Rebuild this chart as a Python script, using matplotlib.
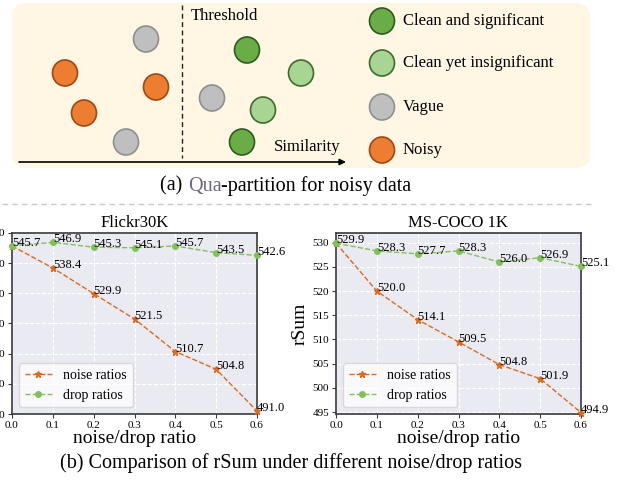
import numpy as np
import matplotlib
matplotlib.use('Agg')
import matplotlib.pyplot as plt
from matplotlib.patches import FancyBboxPatch, Ellipse
from matplotlib.offsetbox import TextArea, HPacker, AnnotationBbox

plt.rcParams['font.family'] = ['Liberation Serif', 'DejaVu Serif']

# ============================================================
# 数据
# ============================================================

ratios = [0.0, 0.1, 0.2, 0.3, 0.4, 0.5, 0.6]
flickr_noise = [545.7, 538.4, 529.9, 521.5, 510.7, 504.8, 491.0]
flickr_drop = [545.7, 546.9, 545.3, 545.1, 545.7, 543.5, 542.6]
coco_noise = [529.9, 520.0, 514.1, 509.5, 504.8, 501.9, 494.9]
coco_drop = [529.9, 528.3, 527.7, 528.3, 526.0, 526.9, 525.1]

# 示意图中的样本点（像素坐标）及类别
dot_x = [146, 65, 156, 84, 126, 247, 301, 212, 263, 242]
dot_y = [39, 73, 87, 113, 142, 50, 73, 98, 110, 142]
dot_cat = ['vague', 'noisy', 'noisy', 'noisy', 'vague',
           'sig', 'insig', 'vague', 'insig', 'sig']

cat_keys = ['sig', 'insig', 'vague', 'noisy']
cat_labels = ['Clean and significant', 'Clean yet insignificant', 'Vague', 'Noisy']
cat_face = {'sig': '#6aac46', 'insig': '#a9d594', 'vague': '#bfbfbf', 'noisy': '#ed7d31'}
cat_edge = {'sig': '#2f5a1f', 'insig': '#3e6b2b', 'vague': '#8f8f8f', 'noisy': '#9e4715'}

NOISE_C = '#dc6a1e'
DROP_C = '#82c05a'

fig = plt.figure(figsize=(6.25, 4.87), dpi=100)

# ============================================================
# (a) 示意图
# ============================================================
ax0 = fig.add_axes([0, 0, 1, 1])
ax0.set_xlim(0, 625)
ax0.set_ylim(487, 0)
ax0.axis('off')

box = FancyBboxPatch((12, 3), 578, 165, boxstyle='round,pad=0,rounding_size=14',
                     fc='#fff6e3', ec='none')
ax0.add_patch(box)

ax0.plot([182, 182], [5, 158], color='#222222', lw=1, ls=(0, (3.5, 2.5)))
ax0.annotate('', xy=(346, 162), xytext=(19, 162),
             arrowprops=dict(arrowstyle='-|>', color='black', lw=1.2,
                             mutation_scale=9, shrinkA=0, shrinkB=0))
ax0.text(191, 16, 'Threshold', fontsize=12, ha='left', va='center')
ax0.text(274, 147, 'Similarity', fontsize=12, ha='left', va='center')

for x, y, c in zip(dot_x, dot_y, dot_cat):
    ax0.add_patch(Ellipse((x, y), 25, 26, fc=cat_face[c], ec=cat_edge[c], lw=1.2))

for key, lab, y in zip(cat_keys, cat_labels, [21, 63, 107, 150]):
    ax0.add_patch(Ellipse((382, y), 25, 26, fc=cat_face[key], ec=cat_edge[key], lw=1.2))
    ax0.text(403, y, lab, fontsize=12, ha='left', va='center')

cap_props = dict(fontsize=14.5, family='Liberation Serif')
parts = [TextArea('(a) ', textprops=dict(color='black', **cap_props)),
         TextArea('Qua', textprops=dict(color='#6e6480', **cap_props)),
         TextArea('-partition for noisy data', textprops=dict(color='black', **cap_props))]
pack = HPacker(children=parts, pad=0, sep=0, align='baseline')
ax0.add_artist(AnnotationBbox(pack, (286, 186), frameon=False, box_alignment=(0.5, 0.5)))

ax0.plot([2, 595], [204, 204], color='#c8c8c8', lw=1, ls=(0, (4, 3)))

ax0.text(291, 463, '(b) Comparison of rSum under different noise/drop ratios',
         fontsize=14.5, ha='center', va='center')

# ============================================================
# (b) 折线图
# ============================================================

def draw_panel(ax, noise, drop, title, ylim, yticks):
    ax.set_facecolor('#EAEAF2')
    ax.grid(True, color='white', ls='--', lw=0.8)
    ax.set_axisbelow(True)
    for s in ax.spines.values():
        s.set_color('#3a3a3a')
        s.set_linewidth(1.2)
    ax.plot(ratios, noise, ls='--', lw=1, color=NOISE_C, marker='*', ms=5,
            label='noise ratios', clip_on=False, zorder=3)
    ax.plot(ratios, drop, ls='--', lw=1, color=DROP_C, marker='o', ms=4,
            label='drop ratios', clip_on=False, zorder=3)
    for x, v in zip(ratios, noise):
        ax.text(x, v, f'{v:.1f}', fontsize=9, ha='left', va='baseline', zorder=4)
    for x, v in zip(ratios[1:], drop[1:]):
        ax.text(x, v, f'{v:.1f}', fontsize=9, ha='left', va='baseline', zorder=4)
    ax.set_xlim(0, 0.6)
    ax.set_ylim(*ylim)
    ax.set_xticks(ratios)
    ax.set_yticks(yticks)
    ax.tick_params(labelsize=8, length=3, color='#3a3a3a', pad=2)
    ax.set_title(title, fontsize=12, pad=4)
    ax.set_xlabel('noise/drop ratio', fontsize=14, labelpad=0)
    ax.set_ylabel('rSum', fontsize=14, labelpad=3)
    ax.legend(loc='lower left', fontsize=10, facecolor='white', framealpha=0.75,
              edgecolor='#d0d0d0')


ax1 = fig.add_axes([12 / 625, (487 - 414) / 487, 245 / 625, 181 / 487])
draw_panel(ax1, flickr_noise, flickr_drop, 'Flickr30K', (490, 550), np.arange(490, 551, 10))

ax2 = fig.add_axes([336 / 625, (487 - 414) / 487, 245 / 625, 181 / 487])
draw_panel(ax2, coco_noise, coco_drop, 'MS-COCO 1K', (494.6, 532), np.arange(495, 531, 5))

fig.savefig('out.png', dpi=100)
